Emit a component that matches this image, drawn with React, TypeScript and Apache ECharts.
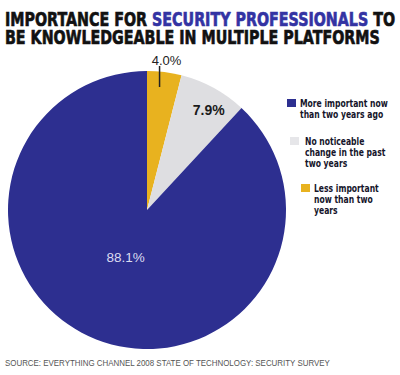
import React, { useEffect, useRef } from "react";
import * as echarts from "echarts";

const TITLE_PLAIN_1 = "IMPORTANCE FOR ";
const TITLE_BLUE = "SECURITY PROFESSIONALS";
const TITLE_PLAIN_2 = " TO";
const TITLE_LINE_2 = "BE KNOWLEDGEABLE IN MULTIPLE PLATFORMS";
const SOURCE = "SOURCE: EVERYTHING CHANNEL 2008 STATE OF TECHNOLOGY: SECURITY SURVEY";

// pie order: clockwise from 12 o'clock
const categories = [
  "Less important now than two years",
  "No noticeable change in the past two years",
  "More important now than two years ago",
];
const values = [4.0, 7.9, 88.1];
const colors = ["#E8B21F", "#DEDEE1", "#2D2F90"];

// legend order (top to bottom) with line breaks as printed
const legendOrder = [2, 1, 0];
const legendLines = [
  ["More important now", "than two years ago"],
  ["No noticeable", "change in the past", "two years"],
  ["Less important", "now than two", "years"],
];

const CX = 147;
const CY = 210;
const R = 139;

function measure(text: string, font: string): number {
  const c = document.createElement("canvas").getContext("2d");
  if (!c) return text.length * 10;
  c.font = font;
  return c.measureText(text).width;
}

export default function App() {
  const ref = useRef<HTMLDivElement>(null);
  useEffect(() => {
    if (!ref.current) return;
    const chart = echarts.init(ref.current, null, { renderer: "svg" });

    const titleFont = '"DejaVu Sans"';
    const titleSize = 19;
    const l1 = measure(TITLE_PLAIN_1 + TITLE_BLUE + TITLE_PLAIN_2, `bold ${titleSize}px ${titleFont}`);
    const titleScale = 390 / l1;

    const srcFont = '"Liberation Sans"';
    const srcW = measure(SOURCE, `9px ${srcFont}`);
    const srcScale = 326 / srcW;

    const legFont = '"DejaVu Sans"';
    const legSize = 10;
    const legW = measure(legendLines[0][0], `bold ${legSize}px ${legFont}`);
    const legScale = 88 / legW;

    const legendPos = [
      { sx: 287, sy: 99, tx: 300, ty: 99 },
      { sx: 290, sy: 137, tx: 305, ty: 137 },
      { sx: 301, sy: 184, tx: 314, ty: 184 },
    ];

    const legendGraphics: any[] = [];
    legendOrder.forEach((di, i) => {
      const p = legendPos[i];
      legendGraphics.push({
        type: "rect",
        shape: { x: p.sx, y: p.sy, width: 9, height: 8 },
        style: { fill: i === 1 ? "#E6E6E9" : colors[di] },
      });
      legendGraphics.push({
        type: "text",
        x: p.tx,
        y: p.ty - 1,
        scaleX: legScale,
        style: {
          text: legendLines[i].join("\n"),
          font: `bold ${legSize}px ${legFont}`,
          lineHeight: 11,
          fill: "#15152a",
          textVerticalAlign: "top",
        },
      });
    });

    // leader line for the small slice: radial position inside the yellow wedge
    const leadAngle = ((values[0] / 2) / 100) * 360 * 0.72 * Math.PI / 180;
    const leadX = CX + R * Math.sin(leadAngle);

    chart.setOption({
      animation: false,
      backgroundColor: "#ffffff",
      graphic: [
        {
          type: "text",
          x: 5,
          y: 10,
          scaleX: titleScale,
          style: {
            text:
              `{a|${TITLE_PLAIN_1}}{b|${TITLE_BLUE}}{a|${TITLE_PLAIN_2}}\n{a|${TITLE_LINE_2}}`,
            rich: {
              a: { fontFamily: titleFont, fontWeight: "bold", fontSize: titleSize, fill: "#111111", stroke: "#111111", lineWidth: 0.7, lineHeight: 18 },
              b: { fontFamily: titleFont, fontWeight: "bold", fontSize: titleSize, fill: "#3333A3", stroke: "#3333A3", lineWidth: 0.7, lineHeight: 18 },
            },
          },
        },
        {
          type: "text",
          x: 5,
          y: 358,
          scaleX: srcScale,
          style: { text: SOURCE, font: `9px ${srcFont}`, fill: "#555555" },
        },
        {
          type: "line",
          z: 100,
          shape: { x1: leadX, y1: CY - R + 16, x2: leadX, y2: CY - R - 5 },
          style: { stroke: "#222222", lineWidth: 1.5 },
        },
        ...legendGraphics,
      ],
      series: [
        {
          type: "pie",
          center: [CX, CY],
          radius: R,
          startAngle: 90,
          clockwise: true,
          silent: true,
          itemStyle: { borderWidth: 0 },
          data: values.map((v, i) => ({
            name: categories[i],
            value: v,
            itemStyle: { color: colors[i] },
            label:
              i === 0
                ? { show: true, position: "outside", color: "#222222", fontSize: 13, fontFamily: '"Liberation Sans"' }
                : i === 1
                ? { show: true, position: "inside", color: "#1a1a1a", fontSize: 14, fontWeight: "bold", fontFamily: '"Liberation Sans"' }
                : { show: true, position: "inside", color: "#DCDCF0", fontSize: 13.5, fontFamily: '"Liberation Sans"' },
            labelLine: { show: false },
          })),
          label: {
            formatter: (p: any) => p.value.toFixed(1) + "%",
          },
          labelLayout: (p: any) => {
            if (p.dataIndex === 0) {
              return {
                x: leadX + 7,
                y: CY - R - 11,
                align: "center",
                verticalAlign: "middle",
              };
            }
            if (p.dataIndex === 1) return { dx: 27, dy: -36 };
            return { dx: 5, dy: -20 };
          },
        },
      ],
    });
    return () => chart.dispose();
  }, []);
  return (
    <div
      ref={ref}
      style={{ position: "absolute", left: 0, top: 0, width: 400, height: 375, background: "#fff" }}
    />
  );
}
